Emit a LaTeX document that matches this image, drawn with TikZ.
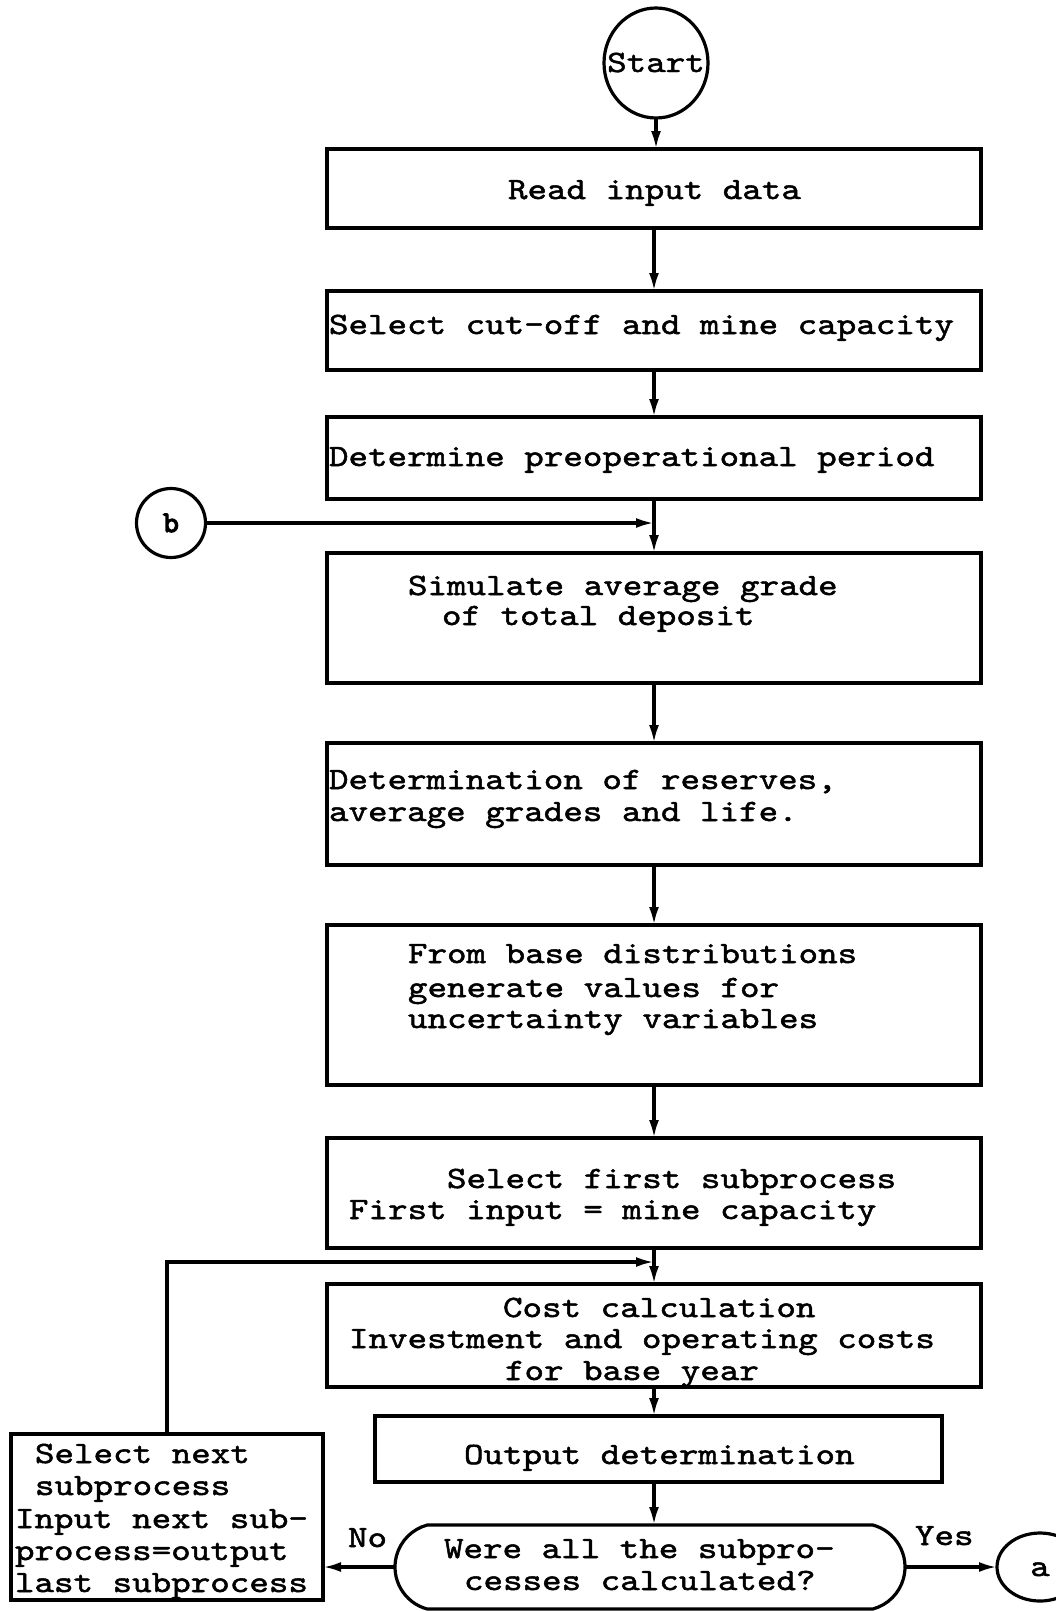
\documentclass[tikz,border=0pt]{standalone}
\usepackage{fontspec}
\setmainfont{lmmono10-regular.otf}[FakeStretch=1.2, FakeBold=1.6]
\newfontfamily\heavytt{lmmono10-regular.otf}[FakeBold=4]
\usetikzlibrary{arrows.meta,shapes.geometric,shapes.misc}

\tikzset{
  ink/.style={line width=3.2pt, black},
  procbox/.style={ink, draw, rectangle, inner sep=0pt, outer sep=0pt},
  term/.style={ink, draw, ellipse, inner sep=0pt, outer sep=0pt},
  decide/.style={ink, draw, rounded rectangle, rounded rectangle arc length=150,
                 inner sep=0pt, outer sep=0pt},
  txt/.style={inner sep=0pt, outer sep=0pt, anchor=base west,
              font=\fontsize{31}{37}\selectfont},
  flow/.style={ink, -{Latex[length=18pt,width=10pt]}}
}

\begin{document}
\begin{tikzpicture}[x=1pt,y=-1pt]
\useasboundingbox (0,0) rectangle (1056,1611);

% terminals and connectors
\node[term, minimum width=104pt, minimum height=110pt] (start) at (656,63) {};
\node[txt, anchor=base] (tstart) at (656,72) {Start};

\node[term, minimum width=69pt, minimum height=69pt] (b) at (171,523) {};
\node[txt, anchor=base, font=\fontsize{30}{36}\heavytt] (tb) at (171,532) {b};

\node[term, minimum width=86pt, minimum height=68pt] (a) at (1040,1567) {};
\node[txt, anchor=base] (ta) at (1040,1576) {a};

% process boxes
\node[procbox, minimum width=654pt, minimum height=79pt]  (n1) at (654,188.5) {};
\node[procbox, minimum width=654pt, minimum height=79pt]  (n2) at (654,330.5) {};
\node[procbox, minimum width=654pt, minimum height=82pt]  (n3) at (654,458) {};
\node[procbox, minimum width=654pt, minimum height=130pt] (n4) at (654,618) {};
\node[procbox, minimum width=654pt, minimum height=122pt] (n5) at (654,804) {};
\node[procbox, minimum width=654pt, minimum height=160pt] (n6) at (654,1005) {};
\node[procbox, minimum width=654pt, minimum height=110pt] (n7) at (654,1193) {};
\node[procbox, minimum width=654pt, minimum height=103pt] (n8) at (654,1335.5) {};
\node[procbox, minimum width=567pt, minimum height=66pt]  (n9) at (658.5,1449) {};
\node[procbox, minimum width=312pt, minimum height=166pt] (nxt) at (167,1517) {};
\node[decide, minimum width=510pt, minimum height=84pt]   (dec) at (650,1567) {};

% box texts
\node[txt] (t1)  at (508,199)  {Read input data};
\node[txt] (t2)  at (329,334)  {Select cut-off and mine capacity};
\node[txt] (t3)  at (329,466)  {Determine preoperational period};
\node[txt] (t4a) at (408,595)  {Simulate average grade};
\node[txt] (t4b) at (442,625)  {of total deposit};
\node[txt] (t5a) at (329,789)  {Determination of reserves,};
\node[txt] (t5b) at (329,821)  {average grades and life.};
\node[txt] (t6a) at (408,963)  {From base distributions};
\node[txt] (t6b) at (408,997)  {generate values for};
\node[txt] (t6c) at (408,1028) {uncertainty variables};
\node[txt] (t7a) at (447,1188) {Select first subprocess};
\node[txt] (t7b) at (349,1219) {First input = mine capacity};
\node[txt] (t8a) at (503,1317) {Cost calculation};
\node[txt] (t8b) at (349,1348) {Investment and operating costs};
\node[txt] (t8c) at (505,1380) {for base year};
\node[txt] (t9)  at (464,1464) {Output determination};
\node[txt] (tda) at (444,1558) {Were all the subpro-};
\node[txt] (tdb) at (464,1590) {cesses calculated?};
\node[txt] (tla) at (35,1463)  {Select next};
\node[txt] (tlb) at (35,1495)  {subprocess};
\node[txt] (tlc) at (15,1528)  {Input next sub-};
\node[txt] (tld) at (15,1560)  {process=output};
\node[txt] (tle) at (15,1592)  {last subprocess};
\node[txt] (tno)  at (348,1547) {No};
\node[txt] (tyes) at (915,1545) {Yes};

% main flow
\draw[flow] (start.south) -- (start.south |- n1.north);
\draw[flow] (n1.south) -- (n2.north);
\draw[flow] (n2.south) -- (n3.north);
\draw[flow] (n3.south) -- (n4.north);
\draw[flow] (n4.south) -- (n5.north);
\draw[flow] (n5.south) -- (n6.north);
\draw[flow] (n6.south) -- (n7.north);
\draw[flow] (n7.south) -- (n8.north);
\draw[flow] (n8.south) -- (n8.south |- n9.north);
\draw[flow] (n8.south |- n9.south) -- (n8.south |- dec.north);

% re-entry from connector b
\draw[flow] (b.east) -- (b.east -| n3.south);

% loop back for the next subprocess
\coordinate (loopy) at (654,1262);
\draw[flow] (nxt.north) |- (loopy);

% decision branches
\draw[flow] (dec.west) -- (nxt.east |- dec.west);
\draw[flow] (dec.east) -- (a.west);
\end{tikzpicture}
\end{document}
